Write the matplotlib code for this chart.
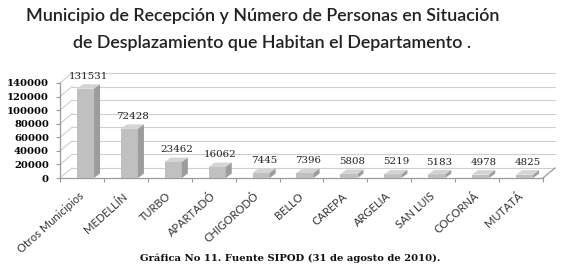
import numpy as np
import matplotlib
matplotlib.use("Agg")
import matplotlib.pyplot as plt
from matplotlib.patches import Polygon

municipios = ["Otros Municipios", "MEDELLÍN", "TURBO", "APARTADÓ", "CHIGORODÓ", "BELLO",
              "CAREPA", "ARGELIA", "SAN LUIS", "COCORNÁ", "MUTATÁ"]
personas = [131531, 72428, 23462, 16062, 7445, 7396, 5808, 5219, 5183, 4978, 4825]
y_ticks = [0, 20000, 40000, 60000, 80000, 100000, 120000, 140000]

titulo_1 = "Municipio de Recepción y Número de Personas en Situación"
titulo_2 = "de Desplazamiento que Habitan el Departamento ."
fuente = "Gráfica No 11. Fuente SIPOD (31 de agosto de 2010)."

W, H = 564, 279
fig = plt.figure(figsize=(W / 100, H / 100), dpi=100)
ax = fig.add_axes([60 / W, (H - 178) / H, 483 / W, 95 / H])
ax.set_xlim(-0.5, len(municipios) - 0.5)
ax.set_ylim(0, y_ticks[-1])

# pixel -> data conversions for the fake 3d depth
px_x = len(municipios) / 483
px_y = y_ticks[-1] / 95
DX, DY = 12 * px_x, 10 * px_y        # back wall offset
bdx, bdy = 6 * px_x, 4.5 * px_y      # bar depth

grid_c = "#cfcfcf"
axis_c = "#9a9a9a"
x0, x1 = -0.5, len(municipios) - 0.5

# back wall gridlines + left wall diagonals
for t in y_ticks:
    ax.plot([x0 + DX, x1 + DX], [t + DY, t + DY], color=grid_c, lw=0.8, clip_on=False, zorder=1)
    ax.plot([x0, x0 + DX], [t, t + DY], color=grid_c, lw=0.8, clip_on=False, zorder=1)
# floor edges
ax.plot([x0, x1], [0, 0], color=axis_c, lw=0.9, clip_on=False, zorder=2)
ax.plot([x1, x1 + DX], [0, DY], color=axis_c, lw=0.9, clip_on=False, zorder=2)

x = np.arange(len(municipios)) + 0.08
w = 0.39
ax.bar(x, personas, width=w, color="#c0c0c0", zorder=3)
for xi, v in zip(x, personas):
    l, r = xi - w / 2, xi + w / 2
    ax.add_patch(Polygon([(l, v), (l + bdx, v + bdy), (r + bdx, v + bdy), (r, v)],
                         closed=True, facecolor="#d4d4d4", edgecolor="none", zorder=3, clip_on=False))
    ax.add_patch(Polygon([(r, 0), (r + bdx, bdy), (r + bdx, v + bdy), (r, v)],
                         closed=True, facecolor="#9c9c9c", edgecolor="none", zorder=3, clip_on=False))
    ax.annotate(str(v), (xi + bdx / 2, v + bdy), xytext=(0, 2.5), textcoords="offset points",
                ha="center", va="bottom", fontsize=7.4, family="DejaVu Serif", color="#222222")

for s in ["top", "right", "bottom"]:
    ax.spines[s].set_visible(False)
ax.spines["left"].set_color(axis_c)
ax.spines["left"].set_linewidth(0.9)

ax.set_yticks(y_ticks)
ax.set_yticklabels([str(t) for t in y_ticks], fontsize=7.2, family="DejaVu Serif", fontweight="bold")
ax.tick_params(axis="y", length=3, width=0.8, color=axis_c, pad=5)

ax.set_xticks(np.arange(len(municipios)))
ax.set_xticklabels(municipios, rotation=42, ha="right", va="center", rotation_mode="anchor",
                   fontsize=8, family="Lato", color="#333333")
ax.set_xticks(np.arange(len(municipios) + 1) - 0.5, minor=True)
ax.tick_params(axis="x", which="major", length=0, pad=12)
ax.tick_params(axis="x", which="minor", length=3, width=0.8, color=axis_c)

fig.text(263 / W, (H - 16) / H, titulo_1, ha="center", va="center", fontsize=12.9, family="Lato",
         fontweight="semibold", color="#222222")
fig.text(272 / W, (H - 43) / H, titulo_2, ha="center", va="center", fontsize=12.9, family="Lato",
         fontweight="semibold", color="#222222")
fig.text(290 / W, (H - 258) / H, fuente, ha="center", va="center", fontsize=7.2,
         family="DejaVu Serif", fontweight="bold", color="#111111")

fig.savefig("out.png", dpi=100)
